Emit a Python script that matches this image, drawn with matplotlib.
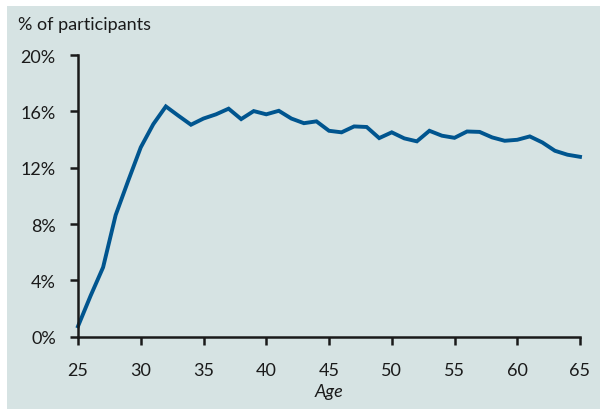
import numpy as np
import matplotlib.pyplot as plt
from matplotlib.patches import Rectangle

# Share of participants by age
ages = list(range(25, 66))
share = [0.74, 2.9, 4.93, 8.64, 11.08, 13.45, 15.1, 16.36, 15.7, 15.06,
         15.5, 15.8, 16.2, 15.46, 16.03, 15.8, 16.05, 15.5, 15.17, 15.3,
         14.63, 14.52, 14.94, 14.9, 14.11, 14.52, 14.09, 13.88, 14.63, 14.28,
         14.13, 14.58, 14.55, 14.16, 13.92, 13.99, 14.23, 13.8, 13.21, 12.93,
         12.78]
xticks = list(range(25, 66, 5))
yticks = [0, 4, 8, 12, 16, 20]

bg = '#d6e3e3'
plt.rcParams['font.family'] = ['Lato', 'DejaVu Sans']

fig = plt.figure(figsize=(6, 4.1), dpi=100)
fig.patch.set_facecolor('white')
fig.patches.append(Rectangle((7 / 600, 0), 593 / 600, 403 / 410,
                             transform=fig.transFigure, facecolor=bg,
                             edgecolor='none', zorder=-10))

ax = fig.add_axes([78 / 600, (410 - 337.7) / 410, 502 / 600, 281.5 / 410])
ax.set_facecolor('none')
ax.plot(ages, share, color='#00558f', lw=2.8, solid_joinstyle='miter',
        clip_on=False)

ax.set_xlim(25, 65)
ax.set_ylim(0, 20)
ax.set_xticks(xticks)
ax.set_yticks(yticks)
ax.set_yticklabels([f'{v}%' for v in yticks])
for s in ['top', 'right']:
    ax.spines[s].set_visible(False)
for s in ['left', 'bottom']:
    ax.spines[s].set_linewidth(1.8)
    ax.spines[s].set_color('#1a1a1a')
ax.tick_params(axis='both', direction='out', length=6, width=1.8,
               color='#1a1a1a', labelsize=13, labelcolor='#1a1a1a')
ax.tick_params(axis='x', pad=12)
ax.tick_params(axis='y', pad=10)

ax.set_xlabel('Age', fontsize=13, style='italic', color='#1a1a1a', labelpad=4)
fig.text(18 / 600, 1 - 25 / 410, '% of participants', fontsize=13,
         color='#1a1a1a', va='center', ha='left')

fig.savefig('out.png', dpi=100, facecolor='white')
